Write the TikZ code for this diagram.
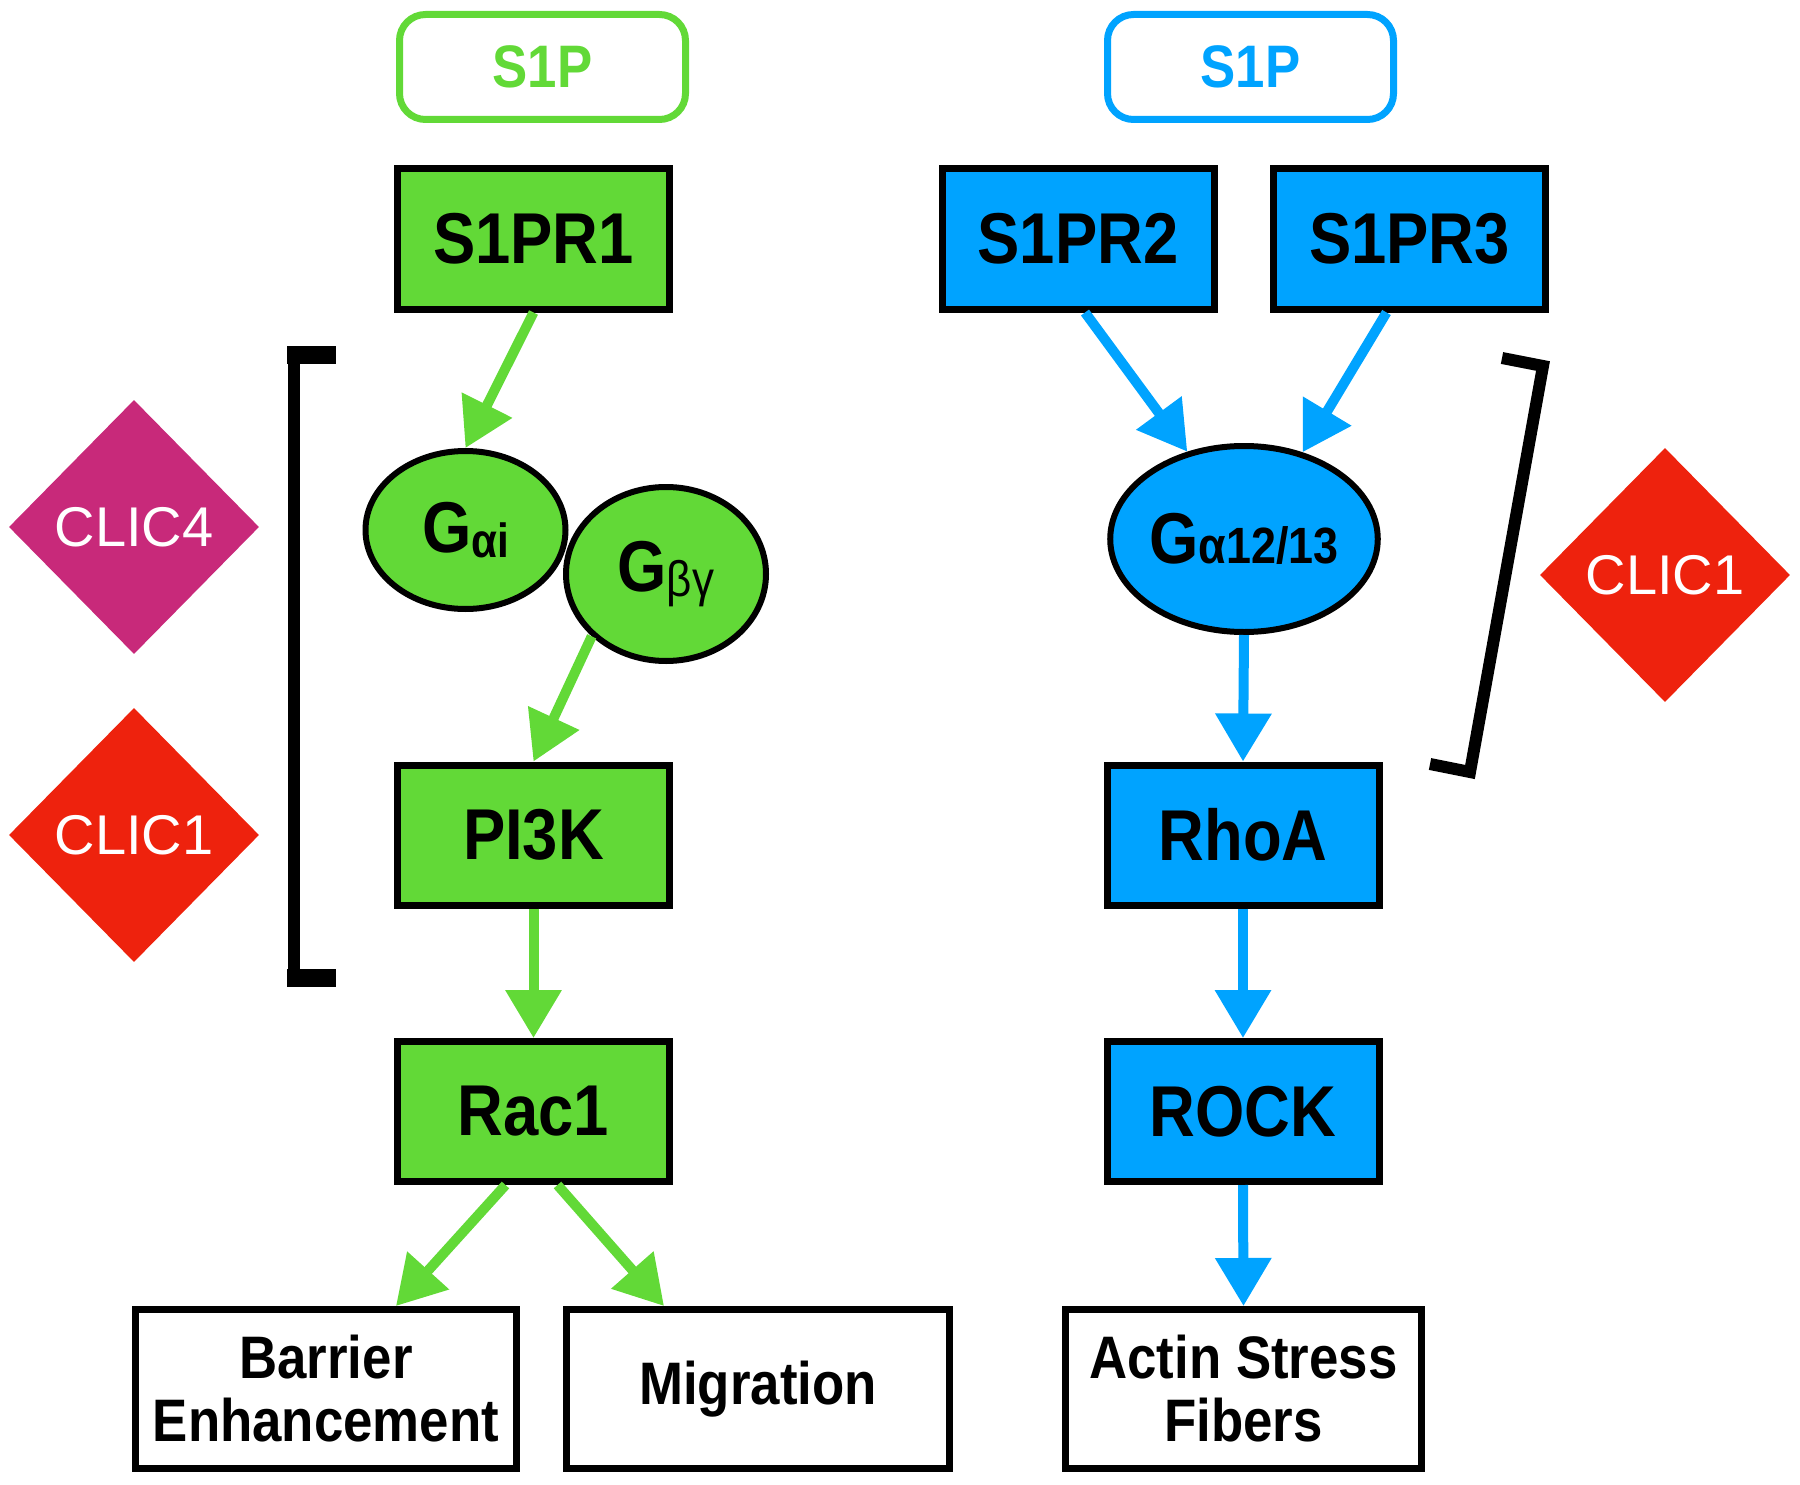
\documentclass[tikz,border=0pt]{standalone}
\usepackage{fontspec}
\setmainfont{Liberation Sans}
\newfontfamily\nf{Liberation Sans}[FakeStretch=0.88]
\usetikzlibrary{arrows.meta,shapes.geometric}
\definecolor{grn}{RGB}{98,217,55}
\definecolor{blu}{RGB}{0,163,255}
\definecolor{mag}{RGB}{200,41,122}
\definecolor{rd}{RGB}{238,34,13}
\newcommand{\bigG}{{\fontsize{72}{72}\selectfont G}}
\begin{document}
\begin{tikzpicture}[x=1pt,y=-1pt,
 box/.style={draw=black, line width=7pt, inner sep=0pt, minimum width=272pt, minimum height=140pt, font=\nf\bfseries\fontsize{72}{80}\selectfont},
 gbox/.style={box, fill=grn},
 bbox/.style={box, fill=blu},
 obox/.style={draw=black, line width=7pt, inner sep=0pt, minimum height=159pt, align=center, font=\nf\bfseries\fontsize{60}{63}\selectfont},
 sip/.style={draw=#1, text=#1, line width=7pt, rounded corners=26pt, minimum width=286pt, minimum height=105pt, inner sep=0pt, font=\nf\bfseries\fontsize{60}{66}\selectfont},
 gell/.style={ellipse, draw=black, line width=6pt, inner sep=0pt, font=\nf\bfseries},
 clic/.style={diamond, fill=#1, text=white, minimum width=250pt, minimum height=254pt, inner sep=0pt, font=\fontsize{56}{60}\selectfont},
 garr/.style={draw=grn, line width=10pt, -{Triangle[width=54pt,length=48pt]}},
 barr/.style={draw=blu, line width=10pt, -{Triangle[width=54pt,length=48pt]}},
 brk/.style={draw=black, line width=12pt},
]
\path[use as bounding box] (0,0) rectangle (1800,1485);

% left pathway
\node[sip=grn] (s1pg) at (542.5,67) {S1P};
\node[gbox] (s1pr1) at (533.5,239) {S1PR1};
\node[gell, fill=grn, minimum width=200pt, minimum height=158pt] (gai) at (465.5,530) {\bigG\raisebox{-5pt}{\fontsize{48}{48}\selectfont αi}};
\node[gell, fill=grn, minimum width=200pt, minimum height=174pt] (gby) at (666,574) {\bigG\raisebox{-5pt}{\fontsize{50}{50}\selectfont\mdseries βγ}};
\node[gbox] (pi3k) at (533.5,835) {PI3K};
\node[gbox] (rac1) at (533.5,1111.5) {Rac1};
\node[obox, minimum width=381pt] (barrier) at (326,1389) {Barrier\\Enhancement};
\node[obox, minimum width=383pt] (migr) at (758,1389) {Migration};

\node[clic=mag] (clic4) at (134,527) {CLIC4};
\node[clic=rd] (clic1a) at (134,835) {CLIC1};

% left bracket
\draw[brk] (293.5,346) -- (293.5,987);
\fill (287,346) rectangle (336,364);
\fill (287,969) rectangle (336,987);

% right pathway
\node[sip=blu] (s1pb) at (1250.5,67) {S1P};
\node[bbox] (s1pr2) at (1078,239) {S1PR2};
\node[bbox] (s1pr3) at (1409.5,239) {S1PR3};
\node[gell, fill=blu, minimum width=262pt, minimum height=186pt] (ga) at (1244,539) {\bigG{\fontsize{51}{51}\selectfont α12/13}};
\node[bbox] (rhoa) at (1243,835) {RhoA};
\node[bbox] (rock) at (1243,1111.5) {ROCK};
\node[obox, minimum width=356pt] (actin) at (1243.5,1389) {Actin Stress\\Fibers};

\node[clic=rd] (clic1b) at (1665,575) {CLIC1};

% right bracket
\draw[brk, line join=miter] (1502,358) -- (1543,366) -- (1470,772) -- (1430,764);

% arrows
\draw[garr] (s1pr1.south) -- (gai.north);
\draw[garr] (gby.220) -- (pi3k.north);
\draw[garr] (pi3k.south) -- (rac1.north);
\draw[garr] ([xshift=-28pt]rac1.south) -- ([xshift=70pt]barrier.north);
\draw[garr] ([xshift=24pt]rac1.south) -- ([xshift=-94pt]migr.north);

\draw[barr] ([xshift=7pt]s1pr2.south) -- (ga.123);
\draw[barr] ([xshift=-23pt]s1pr3.south) -- (ga.56);
\draw[barr] (ga.south) -- (rhoa.north);
\draw[barr] (rhoa.south) -- (rock.north);
\draw[barr] (rock.south) -- (actin.north);
\end{tikzpicture}
\end{document}
